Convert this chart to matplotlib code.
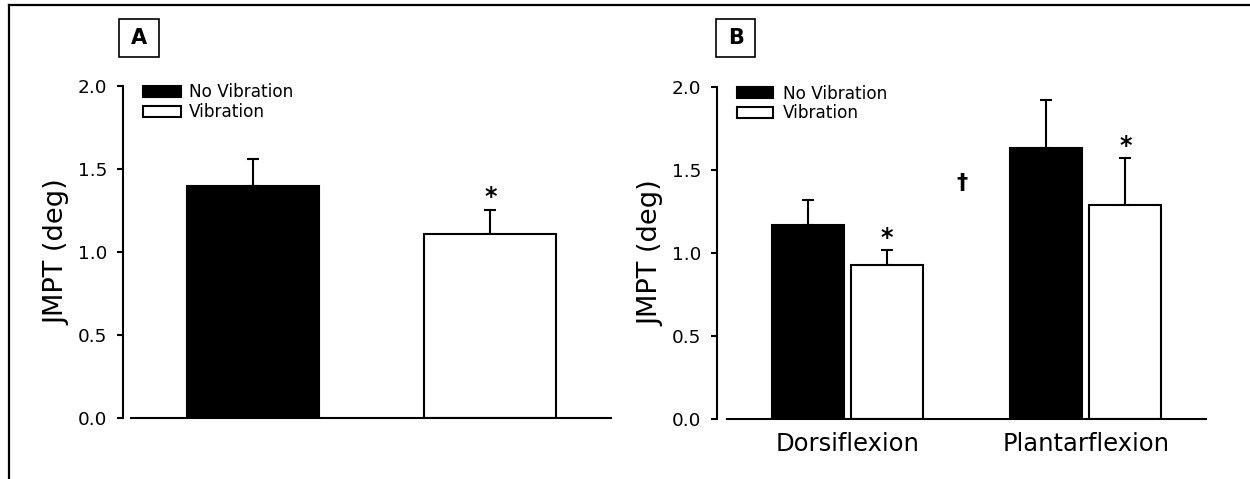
import matplotlib
matplotlib.use("Agg")
import matplotlib.pyplot as plt
import numpy as np
from matplotlib.patches import Rectangle, Patch
from matplotlib.lines import Line2D

# ---- data ----
series = ["No Vibration", "Vibration"]
a_means = [1.40, 1.11]
a_errs = [0.16, 0.145]
b_categories = ["Dorsiflexion", "Plantarflexion"]
b_no_vib = [1.17, 1.63]
b_no_vib_err = [0.15, 0.29]
b_vib = [0.93, 1.29]
b_vib_err = [0.09, 0.28]
y_ticks = [0.0, 0.5, 1.0, 1.5, 2.0]
y_label = "JMPT (deg)"

plt.rcParams['font.family'] = ['DejaVu Sans']

W, H = 1250, 479
fig = plt.figure(figsize=(W / 100, H / 100), dpi=100)

def px_axes(x0, x1, ytop, ybot):
    return fig.add_axes([x0 / W, (H - ybot) / H, (x1 - x0) / W, (ybot - ytop) / H])

axA = px_axes(131, 611, 86, 418)
axB = px_axes(726.7, 1206, 86.7, 419.3)

LW = 1.5

def style(ax, offset_pt):
    ax.set_ylim(0, 2.0)
    ax.set_yticks(y_ticks)
    ax.set_yticklabels([f"{t:.1f}" for t in y_ticks])
    for s in ["top", "right"]:
        ax.spines[s].set_visible(False)
    ax.spines["left"].set_position(("outward", offset_pt))
    ax.spines["left"].set_linewidth(LW)
    ax.spines["bottom"].set_linewidth(LW)
    ax.tick_params(axis="y", direction="out", length=4.3, width=LW, labelsize=13.3, pad=7)
    ax.tick_params(axis="x", length=0)
    ax.set_ylabel(y_label, fontsize=19.6, labelpad=5)

# ---- Panel A ----
xa = np.arange(len(a_means))
axA.bar(xa, a_means, width=0.555, color=["black", "white"], edgecolor="black",
        linewidth=LW, zorder=2)
axA.errorbar(xa, a_means, yerr=[np.zeros(len(a_errs)), a_errs], fmt="none",
             ecolor="black", elinewidth=LW, capsize=4, capthick=LW, zorder=1)
axA.set_xlim(-0.511, 1.507)
axA.set_xticks([])
style(axA, 5.76)
axA.annotate("*", xy=(xa[1], a_means[1] + a_errs[1]), xytext=(0, 9),
             textcoords="offset points", ha="center", va="center",
             fontsize=17, fontweight="bold")

# ---- Panel B ----
xb = np.arange(len(b_categories))
off, bw = 0.1658, 0.302
axB.bar(xb - off, b_no_vib, width=bw, color="black", edgecolor="black", linewidth=LW, zorder=2)
axB.bar(xb + off, b_vib, width=bw, color="white", edgecolor="black", linewidth=LW, zorder=2)
axB.errorbar(xb - off, b_no_vib, yerr=[np.zeros(2), b_no_vib_err], fmt="none",
             ecolor="black", elinewidth=LW, capsize=4, capthick=LW, zorder=1)
axB.errorbar(xb + off, b_vib, yerr=[np.zeros(2), b_vib_err], fmt="none",
             ecolor="black", elinewidth=LW, capsize=4, capthick=LW, zorder=1)
axB.set_xlim(-0.507, 1.504)
axB.set_xticks(xb)
axB.set_xticklabels(b_categories, fontsize=17.5)
axB.tick_params(axis="x", pad=9)
style(axB, 7.2)
for xi, v, e in zip(xb + off, b_vib, b_vib_err):
    axB.annotate("*", xy=(xi, v + e), xytext=(0, 8.5), textcoords="offset points",
                 ha="center", va="center", fontsize=17, fontweight="bold")
axB.text(0.48, 1.42, "\u2020", ha="center", va="center", fontsize=16, fontweight="bold")

# ---- legends ----
handles = [Patch(facecolor="black", edgecolor="black", linewidth=LW),
           Patch(facecolor="white", edgecolor="black", linewidth=LW)]
axA.legend(handles, series, loc="upper left", bbox_to_anchor=(0.024, 1.008),
           frameon=False, fontsize=12.2, handlelength=2.27, handleheight=0.62,
           handletextpad=0.45, labelspacing=0.1, borderpad=0, borderaxespad=0)
axB.legend(handles, series, loc="upper left", bbox_to_anchor=(0.021, 1.006),
           frameon=False, fontsize=12.2, handlelength=2.13, handleheight=0.62,
           handletextpad=0.6, labelspacing=0.1, borderpad=0, borderaxespad=0)

# ---- panel letter boxes ----
def letter_box(x0, y0, w, h, s):
    fig.patches.append(Rectangle((x0 / W, (H - y0 - h) / H), w / W, h / H,
                                 transform=fig.transFigure, fill=False,
                                 edgecolor="black", linewidth=1.2))
    fig.text((x0 + w / 2) / W, (H - y0 - h / 2) / H, s, ha="center", va="center",
             fontsize=15, fontweight="bold")

letter_box(119.3, 19, 39.4, 38.3, "A")
letter_box(716.4, 19, 38.6, 38.3, "B")

# ---- outer frame (top and left edges visible) ----
fig.add_artist(Line2D([9 / W, 1.0], [(H - 5) / H, (H - 5) / H],
                      transform=fig.transFigure, color="black", linewidth=1.6))
fig.add_artist(Line2D([9 / W, 9 / W], [0, (H - 5) / H],
                      transform=fig.transFigure, color="black", linewidth=1.6))

fig.savefig("out.png", dpi=100)
